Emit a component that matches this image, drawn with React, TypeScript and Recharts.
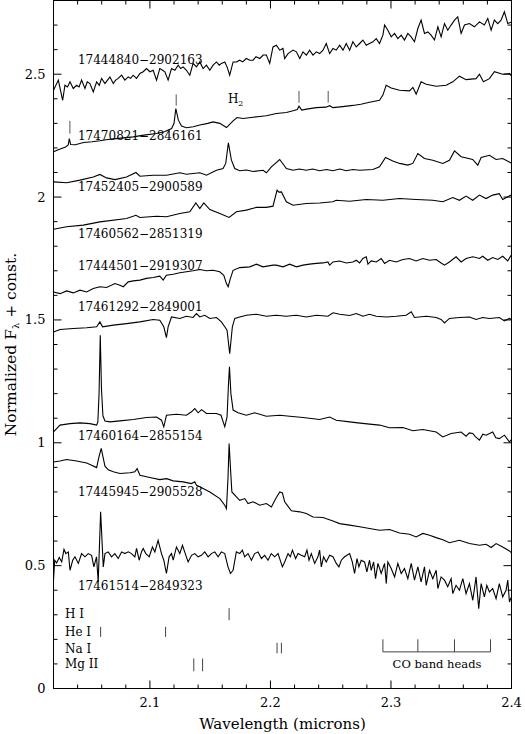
import React from "react";
import { LineChart, Line, XAxis, YAxis, ReferenceLine, ReferenceDot } from "recharts";

const FONT = "'DejaVu Serif', 'Liberation Serif', serif";

const W = 525;
const H = 734;
const PLOT_LEFT = 53.5;
const PLOT_RIGHT = 511.5;
const PLOT_TOP = 0.5;
const PLOT_BOTTOM = 688.5;

// axis ticks
const xTicks = [2.02, 2.04, 2.06, 2.08, 2.1, 2.12, 2.14, 2.16, 2.18, 2.2, 2.22, 2.24, 2.26, 2.28, 2.3, 2.32, 2.34, 2.36, 2.38, 2.4];
const xMajor = [2.1, 2.2, 2.3, 2.4];
const yTicks = [0, 0.1, 0.2, 0.3, 0.4, 0.5, 0.6, 0.7, 0.8, 0.9, 1, 1.1, 1.2, 1.3, 1.4, 1.5, 1.6, 1.7, 1.8, 1.9, 2, 2.1, 2.2, 2.3, 2.4, 2.5, 2.6, 2.7, 2.8];
const yMajor = [0, 0.5, 1, 1.5, 2, 2.5];

// spectra: [wavelength (microns), normalized flux + const]
const s17444840: [number, number][] = [
  [2.02, 2.435], [2.024, 2.476], [2.0276, 2.394], [2.0295, 2.455], [2.0316, 2.448], [2.0337, 2.469], [2.0364, 2.442], [2.0392, 2.455],
  [2.0412, 2.448], [2.0433, 2.476], [2.0461, 2.442], [2.048, 2.469], [2.0502, 2.462], [2.053, 2.428], [2.0558, 2.469], [2.058, 2.455],
  [2.0599, 2.483], [2.0627, 2.462], [2.0648, 2.476], [2.0668, 2.489], [2.0696, 2.462], [2.0716, 2.476], [2.0737, 2.483], [2.0765, 2.496],
  [2.0792, 2.476], [2.082, 2.489], [2.084, 2.483], [2.0861, 2.496], [2.0889, 2.483], [2.0917, 2.503], [2.0944, 2.51], [2.0972, 2.523],
  [2.1, 2.51], [2.1027, 2.516], [2.1055, 2.476], [2.1082, 2.523], [2.1105, 2.516], [2.1124, 2.51], [2.1151, 2.476], [2.1179, 2.523],
  [2.1207, 2.516], [2.1234, 2.537], [2.1255, 2.523], [2.1276, 2.53], [2.1303, 2.516], [2.1331, 2.496], [2.1358, 2.544], [2.1386, 2.53],
  [2.1414, 2.55], [2.1441, 2.523], [2.1469, 2.537], [2.1497, 2.516], [2.1524, 2.537], [2.1552, 2.55], [2.1575, 2.537], [2.1593, 2.544],
  [2.1621, 2.55], [2.164, 2.53], [2.1662, 2.496], [2.169, 2.55], [2.1718, 2.55], [2.1745, 2.557], [2.177, 2.55], [2.18, 2.564],
  [2.1828, 2.557], [2.1856, 2.557], [2.188, 2.571], [2.1911, 2.564], [2.194, 2.578], [2.1966, 2.578], [2.1994, 2.544], [2.2021, 2.611],
  [2.2049, 2.618], [2.2077, 2.598], [2.2104, 2.605], [2.2118, 2.564], [2.2146, 2.584], [2.2187, 2.598], [2.2215, 2.591], [2.2243, 2.564],
  [2.227, 2.591], [2.2298, 2.578], [2.2325, 2.598], [2.2353, 2.578], [2.2381, 2.591], [2.2408, 2.584], [2.2436, 2.598], [2.2463, 2.625],
  [2.2491, 2.584], [2.2519, 2.605], [2.2546, 2.598], [2.2574, 2.618], [2.2602, 2.598], [2.2629, 2.625], [2.2657, 2.598], [2.2684, 2.632],
  [2.2712, 2.611], [2.274, 2.625], [2.2767, 2.639], [2.2795, 2.618], [2.2822, 2.625], [2.285, 2.632], [2.2878, 2.645], [2.2905, 2.625],
  [2.2933, 2.659], [2.2947, 2.7], [2.2974, 2.679], [2.3002, 2.652], [2.303, 2.666], [2.3057, 2.645], [2.3085, 2.659], [2.3112, 2.639],
  [2.314, 2.666], [2.3168, 2.652], [2.3195, 2.632], [2.3223, 2.686], [2.325, 2.72], [2.3278, 2.666], [2.3306, 2.672], [2.3333, 2.659],
  [2.3361, 2.639], [2.3389, 2.693], [2.3416, 2.652], [2.3444, 2.706], [2.3471, 2.679], [2.3499, 2.7], [2.3527, 2.72], [2.3554, 2.733],
  [2.3582, 2.666], [2.361, 2.7], [2.3651, 2.706], [2.3692, 2.693], [2.3734, 2.713], [2.3775, 2.7], [2.3803, 2.727], [2.3831, 2.679],
  [2.3858, 2.72], [2.3886, 2.706], [2.3913, 2.72], [2.3941, 2.754], [2.3969, 2.706], [2.4, 2.713],
];

const s17470821: [number, number][] = [
  [2.02, 2.184], [2.025, 2.195], [2.03, 2.204], [2.0322, 2.212], [2.0331, 2.238], [2.0342, 2.214], [2.038, 2.213], [2.045, 2.222],
  [2.052, 2.225], [2.0586, 2.229], [2.065, 2.234], [2.072, 2.238], [2.08, 2.242], [2.0861, 2.245], [2.095, 2.252], [2.1055, 2.259],
  [2.112, 2.266], [2.118, 2.279], [2.12, 2.3], [2.1215, 2.36], [2.1236, 2.313], [2.1262, 2.289], [2.1303, 2.282], [2.136, 2.286],
  [2.1414, 2.293], [2.148, 2.3], [2.1524, 2.306], [2.158, 2.3], [2.1635, 2.283], [2.169, 2.31], [2.1723, 2.324], [2.1773, 2.32],
  [2.1856, 2.325], [2.191, 2.328], [2.1966, 2.331], [2.2049, 2.34], [2.2132, 2.344], [2.2187, 2.351], [2.2223, 2.356], [2.2237, 2.37],
  [2.2259, 2.354], [2.23, 2.358], [2.2381, 2.364], [2.246, 2.366], [2.2491, 2.372], [2.2519, 2.364], [2.26, 2.368], [2.2684, 2.373],
  [2.275, 2.378], [2.2822, 2.386], [2.2905, 2.394], [2.2933, 2.415], [2.296, 2.455], [2.3002, 2.444], [2.3071, 2.435], [2.3154, 2.432],
  [2.3182, 2.446], [2.3209, 2.419], [2.325, 2.469], [2.3292, 2.459], [2.3375, 2.451], [2.3458, 2.455], [2.3513, 2.469], [2.3568, 2.492],
  [2.3623, 2.478], [2.3706, 2.482], [2.3734, 2.5], [2.3767, 2.469], [2.3817, 2.482], [2.3858, 2.51], [2.3927, 2.5], [2.3983, 2.503],
  [2.4, 2.492],
];

const s17452405: [number, number][] = [
  [2.02, 2.062], [2.0309, 2.058], [2.042, 2.069], [2.053, 2.082], [2.0585, 2.092], [2.064, 2.078], [2.071, 2.071], [2.0806, 2.082],
  [2.0884, 2.1], [2.0917, 2.085], [2.1027, 2.089], [2.1138, 2.089], [2.1248, 2.099], [2.1303, 2.093], [2.1414, 2.099], [2.1469, 2.089],
  [2.1552, 2.109], [2.1607, 2.116], [2.1629, 2.137], [2.1651, 2.221], [2.1676, 2.15], [2.1704, 2.116], [2.1745, 2.107], [2.18, 2.11],
  [2.1856, 2.104], [2.1939, 2.109], [2.1966, 2.099], [2.2008, 2.123], [2.2077, 2.153], [2.2132, 2.116], [2.2187, 2.109], [2.224, 2.114],
  [2.2297, 2.109], [2.235, 2.114], [2.2408, 2.107], [2.2465, 2.112], [2.2518, 2.107], [2.2575, 2.114], [2.2629, 2.107], [2.2685, 2.112],
  [2.2739, 2.109], [2.285, 2.112], [2.2905, 2.123], [2.2955, 2.161], [2.3015, 2.147], [2.3071, 2.137], [2.314, 2.13], [2.3181, 2.137],
  [2.3223, 2.177], [2.3278, 2.157], [2.3347, 2.15], [2.343, 2.137], [2.3485, 2.15], [2.3527, 2.188], [2.3582, 2.164], [2.3678, 2.153],
  [2.372, 2.13], [2.3748, 2.161], [2.3817, 2.17], [2.3872, 2.153], [2.3927, 2.157], [2.3996, 2.139],
];

const s17460562: [number, number][] = [
  [2.02, 1.869], [2.0309, 1.879], [2.0447, 1.886], [2.0585, 1.899], [2.0806, 1.913], [2.0884, 1.926], [2.0917, 1.917], [2.1055, 1.922],
  [2.1138, 1.92], [2.1248, 1.933], [2.1331, 1.94], [2.1381, 1.976], [2.1414, 1.953], [2.1447, 1.976], [2.1497, 1.949], [2.158, 1.933],
  [2.1657, 1.917], [2.1718, 1.94], [2.18, 1.947], [2.1883, 1.958], [2.1966, 1.958], [2.2021, 1.963], [2.2055, 2.028], [2.207, 2.02],
  [2.2091, 2.021], [2.2132, 1.981], [2.2187, 1.967], [2.2297, 1.974], [2.2408, 1.976], [2.2518, 1.981], [2.2546, 1.987], [2.2657, 1.983],
  [2.2795, 1.99], [2.2933, 1.987], [2.3071, 1.994], [2.3209, 1.99], [2.3347, 1.987], [2.343, 1.981], [2.3513, 1.998], [2.3568, 1.987],
  [2.3623, 2.004], [2.3678, 1.987], [2.3734, 2.008], [2.3789, 1.994], [2.3844, 2.008], [2.3899, 2.014], [2.3927, 1.99], [2.3996, 2.008],
];

const s17444501: [number, number][] = [
  [2.02, 1.614], [2.0254, 1.607], [2.0309, 1.618], [2.0364, 1.61], [2.042, 1.621], [2.0475, 1.614], [2.053, 1.628], [2.0585, 1.635],
  [2.064, 1.632], [2.071, 1.648], [2.0751, 1.641], [2.0779, 1.635], [2.082, 1.655], [2.0862, 1.659], [2.0917, 1.662], [2.0972, 1.669],
  [2.1027, 1.673], [2.1082, 1.678], [2.111, 1.662], [2.1137, 1.682], [2.1193, 1.686], [2.1248, 1.692], [2.1303, 1.696], [2.1358, 1.7],
  [2.1414, 1.705], [2.1469, 1.7], [2.1524, 1.702], [2.1579, 1.696], [2.1613, 1.682], [2.1635, 1.648], [2.1649, 1.635], [2.1668, 1.669],
  [2.169, 1.702], [2.1745, 1.713], [2.1828, 1.716], [2.1883, 1.727], [2.1938, 1.716], [2.2021, 1.723], [2.2049, 1.723], [2.2104, 1.716],
  [2.216, 1.727], [2.2215, 1.716], [2.227, 1.723], [2.2325, 1.727], [2.2381, 1.73], [2.2436, 1.732], [2.2477, 1.736], [2.2491, 1.723],
  [2.2519, 1.736], [2.2574, 1.74], [2.2629, 1.732], [2.2684, 1.736], [2.2712, 1.743], [2.274, 1.732], [2.2767, 1.75], [2.2795, 1.757],
  [2.2809, 1.727], [2.2836, 1.74], [2.2878, 1.736], [2.2919, 1.75], [2.2947, 1.73], [2.2988, 1.743], [2.3043, 1.736], [2.3099, 1.746],
  [2.3154, 1.75], [2.3209, 1.74], [2.3264, 1.75], [2.332, 1.743], [2.3375, 1.746], [2.3416, 1.732], [2.3444, 1.723], [2.3485, 1.736],
  [2.354, 1.757], [2.3582, 1.736], [2.3623, 1.75], [2.3679, 1.757], [2.3734, 1.75], [2.3761, 1.759], [2.3803, 1.743], [2.3844, 1.754],
  [2.3886, 1.746], [2.3927, 1.759], [2.3969, 1.74], [2.3996, 1.763],
];

const s17461292: [number, number][] = [
  [2.02, 1.451], [2.0254, 1.461], [2.0364, 1.465], [2.0475, 1.468], [2.0558, 1.472], [2.0585, 1.492], [2.0607, 1.472], [2.0696, 1.479],
  [2.0806, 1.485], [2.0917, 1.492], [2.1027, 1.502], [2.1082, 1.499], [2.1115, 1.472], [2.1137, 1.428], [2.1151, 1.472], [2.1179, 1.512],
  [2.1248, 1.506], [2.1303, 1.515], [2.1358, 1.51], [2.1386, 1.526], [2.1414, 1.512], [2.1455, 1.519], [2.1497, 1.506], [2.1552, 1.51],
  [2.1593, 1.492], [2.1621, 1.472], [2.164, 1.458], [2.1662, 1.363], [2.1684, 1.472], [2.1704, 1.506], [2.1745, 1.512], [2.18, 1.519],
  [2.1883, 1.523], [2.1966, 1.515], [2.2049, 1.519], [2.213, 1.515], [2.2215, 1.519], [2.2298, 1.512], [2.2381, 1.519], [2.2477, 1.515],
  [2.2519, 1.529], [2.2574, 1.523], [2.2657, 1.518], [2.2712, 1.526], [2.2767, 1.515], [2.2822, 1.523], [2.2878, 1.515], [2.2961, 1.512],
  [2.3043, 1.515], [2.3126, 1.519], [2.3168, 1.533], [2.3195, 1.51], [2.3292, 1.515], [2.3375, 1.51], [2.3416, 1.502], [2.3444, 1.488],
  [2.3485, 1.506], [2.3568, 1.51], [2.3651, 1.512], [2.3706, 1.502], [2.3761, 1.51], [2.3817, 1.506], [2.3899, 1.51], [2.3941, 1.496],
  [2.3983, 1.506], [2.4, 1.502],
];

const s17460164: [number, number][] = [
  [2.02, 1.044], [2.0254, 1.072], [2.0337, 1.078], [2.042, 1.081], [2.0502, 1.078], [2.0558, 1.072], [2.0568, 1.085], [2.0578, 1.2],
  [2.0588, 1.438], [2.0598, 1.22], [2.061, 1.11], [2.0627, 1.089], [2.0668, 1.085], [2.0751, 1.089], [2.0862, 1.095], [2.0972, 1.103],
  [2.1055, 1.105], [2.1096, 1.092], [2.1115, 1.065], [2.1137, 1.112], [2.122, 1.116], [2.1303, 1.112], [2.1345, 1.126], [2.1372, 1.139],
  [2.14, 1.122], [2.1428, 1.135], [2.1469, 1.119], [2.1552, 1.119], [2.159, 1.112], [2.1621, 1.065], [2.164, 1.105], [2.1652, 1.24],
  [2.166, 1.309], [2.1672, 1.2], [2.169, 1.133], [2.1731, 1.122], [2.18, 1.112], [2.1869, 1.122], [2.1966, 1.108], [2.2077, 1.112],
  [2.216, 1.108], [2.227, 1.103], [2.2408, 1.095], [2.2491, 1.105], [2.2546, 1.092], [2.2657, 1.085], [2.2726, 1.081], [2.2822, 1.076],
  [2.2905, 1.072], [2.2988, 1.061], [2.3099, 1.062], [2.3182, 1.049], [2.3264, 1.054], [2.3375, 1.044], [2.343, 1.024], [2.3499, 1.038],
  [2.3582, 1.044], [2.3623, 1.027], [2.365, 1.04], [2.3679, 1.038], [2.37, 1.025], [2.3734, 1.011], [2.3762, 1.035], [2.3789, 1.031],
  [2.3844, 1.044], [2.387, 1.02], [2.3899, 1.017], [2.3941, 1.031], [2.3983, 1.004], [2.4, 1.013],
];

const s17445945: [number, number][] = [
  [2.02, 0.922], [2.0254, 0.926], [2.0309, 0.932], [2.0392, 0.926], [2.0475, 0.918], [2.0516, 0.909], [2.0558, 0.899], [2.0577, 0.943],
  [2.0596, 0.977], [2.0612, 0.94], [2.0627, 0.905], [2.0654, 0.89], [2.0696, 0.882], [2.0751, 0.875], [2.0834, 0.878], [2.0875, 0.882],
  [2.0894, 0.895], [2.0917, 0.868], [2.0999, 0.859], [2.1082, 0.85], [2.1138, 0.854], [2.1193, 0.845], [2.1276, 0.841], [2.1345, 0.834],
  [2.1372, 0.841], [2.1386, 0.827], [2.1414, 0.821], [2.1497, 0.8], [2.158, 0.773], [2.1621, 0.746], [2.1635, 0.732], [2.1648, 0.86],
  [2.1657, 0.997], [2.1668, 0.9], [2.168, 0.8], [2.1718, 0.78], [2.1745, 0.766], [2.1787, 0.773], [2.1814, 0.753], [2.1856, 0.76],
  [2.1911, 0.746], [2.1966, 0.753], [2.2008, 0.739], [2.2044, 0.773], [2.2077, 0.8], [2.2099, 0.796], [2.2118, 0.76], [2.216, 0.732],
  [2.2174, 0.723], [2.2243, 0.719], [2.2298, 0.712], [2.2353, 0.698], [2.2436, 0.696], [2.2519, 0.682], [2.2574, 0.671], [2.2657, 0.665],
  [2.274, 0.658], [2.2822, 0.651], [2.2905, 0.644], [2.2988, 0.647], [2.3071, 0.633], [2.3154, 0.628], [2.3209, 0.617], [2.3264, 0.631],
  [2.332, 0.624], [2.3375, 0.614], [2.343, 0.605], [2.3485, 0.593], [2.3568, 0.603], [2.3651, 0.59], [2.3734, 0.583], [2.3789, 0.587],
  [2.3831, 0.574], [2.3872, 0.59], [2.3927, 0.576], [2.3983, 0.56], [2.4, 0.552],
];

const s17461514: [number, number][] = [
  [2.02, 0.441], [2.021, 0.522], [2.0226, 0.511], [2.0248, 0.533], [2.0268, 0.515], [2.0287, 0.566], [2.0303, 0.549], [2.0323, 0.556],
  [2.0337, 0.481], [2.0359, 0.522], [2.0378, 0.536], [2.0406, 0.509], [2.0433, 0.549], [2.0461, 0.536], [2.0488, 0.549], [2.0516, 0.542],
  [2.0535, 0.495], [2.0557, 0.536], [2.0571, 0.434], [2.0591, 0.719], [2.0613, 0.495], [2.0627, 0.549], [2.0654, 0.556], [2.0682, 0.536],
  [2.0709, 0.549], [2.0737, 0.529], [2.0765, 0.556], [2.0792, 0.549], [2.082, 0.556], [2.0847, 0.549], [2.0875, 0.536], [2.0889, 0.57],
  [2.0911, 0.522], [2.093, 0.556], [2.0944, 0.57], [2.0966, 0.549], [2.0994, 0.536], [2.1021, 0.576], [2.1041, 0.556], [2.1068, 0.603],
  [2.1096, 0.549], [2.1115, 0.522], [2.1137, 0.468], [2.1159, 0.536], [2.1179, 0.549], [2.1193, 0.522], [2.122, 0.576], [2.1248, 0.549],
  [2.127, 0.583], [2.1298, 0.542], [2.1317, 0.515], [2.1345, 0.542], [2.1372, 0.549], [2.14, 0.536], [2.1427, 0.542], [2.1455, 0.556],
  [2.1483, 0.536], [2.151, 0.549], [2.1538, 0.556], [2.1566, 0.536], [2.1593, 0.556], [2.1621, 0.549], [2.1648, 0.495], [2.1668, 0.468],
  [2.169, 0.481], [2.1717, 0.556], [2.1745, 0.549], [2.1767, 0.563], [2.1786, 0.536], [2.1814, 0.549], [2.1842, 0.522], [2.1869, 0.549],
  [2.1897, 0.556], [2.1925, 0.529], [2.1952, 0.542], [2.198, 0.522], [2.2007, 0.549], [2.2035, 0.536], [2.2063, 0.549], [2.2099, 0.495],
  [2.2118, 0.515], [2.2146, 0.549], [2.2165, 0.536], [2.2182, 0.563], [2.2209, 0.529], [2.2229, 0.549], [2.2256, 0.542], [2.2284, 0.536],
  [2.2303, 0.563], [2.232, 0.522], [2.2339, 0.549], [2.2367, 0.509], [2.2394, 0.536], [2.2408, 0.563], [2.2422, 0.495], [2.2441, 0.536],
  [2.2463, 0.515], [2.2491, 0.542], [2.2519, 0.536], [2.2546, 0.509], [2.2568, 0.495], [2.2588, 0.522], [2.2615, 0.536], [2.2657, 0.549],
  [2.2679, 0.515], [2.2698, 0.468], [2.2718, 0.529], [2.2734, 0.495], [2.2753, 0.522], [2.2781, 0.515], [2.28, 0.475], [2.2822, 0.522],
  [2.2836, 0.481], [2.2856, 0.515], [2.2872, 0.447], [2.2892, 0.509], [2.2919, 0.468], [2.2947, 0.509], [2.2961, 0.427], [2.2974, 0.515],
  [2.3002, 0.488], [2.303, 0.454], [2.3057, 0.509], [2.3085, 0.468], [2.3112, 0.488], [2.314, 0.447], [2.3168, 0.509], [2.3195, 0.441],
  [2.3223, 0.495], [2.325, 0.434], [2.3278, 0.495], [2.3292, 0.42], [2.332, 0.481], [2.3347, 0.447], [2.3375, 0.481], [2.3389, 0.407],
  [2.3416, 0.454], [2.3444, 0.441], [2.3471, 0.414], [2.3499, 0.447], [2.3513, 0.386], [2.354, 0.42], [2.3568, 0.4], [2.3596, 0.447],
  [2.3623, 0.386], [2.3651, 0.427], [2.3679, 0.359], [2.3706, 0.454], [2.3728, 0.325], [2.3748, 0.427], [2.3775, 0.373], [2.3795, 0.42],
  [2.3817, 0.393], [2.3844, 0.407], [2.3872, 0.366], [2.3899, 0.427], [2.3927, 0.373], [2.3955, 0.4], [2.3969, 0.441], [2.3983, 0.352],
  [2.4, 0.373],
];

const spectra = [s17444840, s17470821, s17452405, s17460562, s17444501, s17461292, s17460164, s17445945, s17461514];
const spectrumNames = [
  "17444840−2902163",
  "17470821−2846161",
  "17452405−2900589",
  "17460562−2851319",
  "17444501−2919307",
  "17461292−2849001",
  "17460164−2855154",
  "17445945−2905528",
  "17461514−2849323",
];
const nameX = 2.0403;
const nameLevels = [2.54, 2.234, 2.024, 1.834, 1.705, 1.535, 1.012, 0.784, 0.401];

// H2 marks on the 17470821 spectrum
const h2Lines = [2.0336, 2.1218, 2.2237, 2.2479];
const h2Low = [2.258, 2.372, 2.384, 2.384];
const h2High = [2.31, 2.418, 2.432, 2.432];

// line identifications at the bottom
const idNames = ["H I", "He I", "Na I", "Mg II"];
const idLevels = [0.286, 0.213, 0.143, 0.082];
const idWaves = [[2.1657], [2.0591, 2.113], [2.2055, 2.2091], [2.1364, 2.1437]];
const idLow = [0.278, 0.21, 0.143, 0.07];
const idHigh = [0.327, 0.251, 0.186, 0.122];
const idX = 2.0295;

const coHeads = [2.2933, 2.3223, 2.3527, 2.3826];
const coLow = 0.149;
const coHigh = 0.2;

const isIn = (list: number[], v: number) => list.some((m) => Math.abs(m - v) < 1e-6);

const XTick = (props: any) => {
  const { x, y, payload } = props;
  const major = isIn(xMajor, payload.value);
  const len = major ? 8 : 4;
  return (
    <g>
      <line x1={x} y1={y} x2={x} y2={y - len} stroke="#000" />
      <line x1={x} y1={PLOT_TOP} x2={x} y2={PLOT_TOP + len} stroke="#000" />
      {major && (
        <text x={x} y={y + 18} textAnchor="middle" fontSize={13} fontFamily={FONT} fill="#000">
          {String(payload.value)}
        </text>
      )}
    </g>
  );
};

const YTick = (props: any) => {
  const { x, y, payload } = props;
  const major = isIn(yMajor, payload.value);
  const len = major ? 8 : 4;
  return (
    <g>
      <line x1={x} y1={y} x2={x + len} y2={y} stroke="#000" />
      <line x1={PLOT_RIGHT} y1={y} x2={PLOT_RIGHT - len} y2={y} stroke="#000" />
      {major && (
        <text x={x - 8} y={y + 4.5} textAnchor="end" fontSize={13} fontFamily={FONT} fill="#000">
          {String(payload.value)}
        </text>
      )}
    </g>
  );
};

const textAt = (label: React.ReactNode, anchor: "start" | "middle" = "start", size = 12) => (p: any) => (
  <text x={p.cx} y={p.cy} textAnchor={anchor} fontSize={size} fontFamily={FONT} fill="#000">
    {label}
  </text>
);

export default function App() {
  return (
    <div style={{ position: "absolute", left: 0, top: 0, width: W, height: H, background: "#fff" }}>
      <LineChart width={W} height={H} margin={{ top: PLOT_TOP, right: W - PLOT_RIGHT, bottom: 0, left: 0 }}>
        <XAxis
          type="number"
          dataKey="w"
          domain={[2.02, 2.4]}
          allowDataOverflow
          ticks={xTicks}
          interval={0}
          height={H - PLOT_BOTTOM}
          tickSize={0}
          tickMargin={0}
          tickLine={false}
          axisLine={{ stroke: "#000" }}
          tick={<XTick />}
          label={{
            content: () => (
              <text x={(PLOT_LEFT + PLOT_RIGHT) / 2} y={729} textAnchor="middle" fontSize={15} fontFamily={FONT} fill="#000">
                Wavelength (microns)
              </text>
            ),
          }}
        />
        <YAxis
          type="number"
          domain={[0, 2.8]}
          allowDataOverflow
          ticks={yTicks}
          interval={0}
          width={PLOT_LEFT}
          tickSize={0}
          tickMargin={0}
          tickLine={false}
          axisLine={{ stroke: "#000" }}
          tick={<YTick />}
          label={{
            content: () => (
              <text
                transform={`translate(16, ${(PLOT_TOP + PLOT_BOTTOM) / 2}) rotate(-90)`}
                textAnchor="middle"
                fontSize={15.5}
                fontFamily={FONT}
                fill="#000"
              >
                Normalized F
                <tspan dy={3} fontSize={10}>λ</tspan>
                <tspan dy={-3}> + const.</tspan>
              </text>
            ),
          }}
        />
        <ReferenceLine y={2.8} stroke="#000" />
        <ReferenceLine x={2.4} stroke="#000" />

        {spectra.map((s, i) => (
          <Line
            key={spectrumNames[i]}
            name={spectrumNames[i]}
            data={s.map(([w, f]) => ({ w, f }))}
            dataKey="f"
            type="linear"
            stroke="#000"
            strokeWidth={1.1}
            dot={false}
            activeDot={false}
            isAnimationActive={false}
          />
        ))}

        {spectrumNames.map((n, i) => (
          <ReferenceDot key={"lbl" + i} x={nameX} y={nameLevels[i]} r={0} shape={textAt(n)} />
        ))}

        {h2Lines.map((w, i) => (
          <ReferenceLine
            key={"h2" + i}
            segment={[{ x: w, y: h2Low[i] }, { x: w, y: h2High[i] }]}
            stroke="#555"
          />
        ))}
        <ReferenceDot
          x={2.1647}
          y={2.382}
          r={0}
          shape={textAt(
            <>
              H<tspan dy={3} fontSize={8}>2</tspan>
            </>
          )}
        />

        {idNames.map((n, i) => (
          <ReferenceDot key={"id" + i} x={idX} y={idLevels[i]} r={0} shape={textAt(n)} />
        ))}
        {idWaves.map((ws, i) =>
          ws.map((w, j) => (
            <ReferenceLine
              key={`idl${i}-${j}`}
              segment={[{ x: w, y: idLow[i] }, { x: w, y: idHigh[i] }]}
              stroke="#444"
            />
          ))
        )}

        <ReferenceLine
          segment={[{ x: coHeads[0], y: coLow }, { x: coHeads[coHeads.length - 1], y: coLow }]}
          stroke="#444"
        />
        {coHeads.map((w, i) => (
          <ReferenceLine key={"co" + i} segment={[{ x: w, y: coLow }, { x: w, y: coHigh }]} stroke="#444" />
        ))}
        <ReferenceDot x={2.3382} y={0.082} r={0} shape={textAt("CO band heads", "middle", 11.5)} />
      </LineChart>
    </div>
  );
}
